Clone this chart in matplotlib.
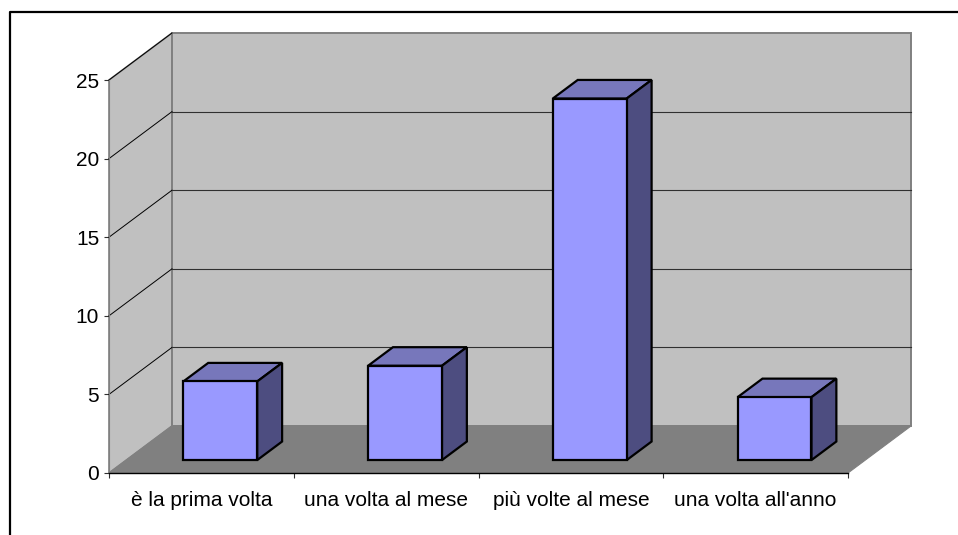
import matplotlib.pyplot as plt
from matplotlib.lines import Line2D
from matplotlib.patches import Polygon

categories = ["è la prima volta", "una volta al mese", "più volte al mese", "una volta all'anno"]
values = [5, 6, 23, 4]
y_ticks = [0, 5, 10, 15, 20, 25]

WALL = "#c0c0c0"
FLOOR = "#808080"
FRONT = "#9999ff"
TOP = "#7777bb"
SIDE = "#4d4d80"

# pixel layout of the front of the chart box
W, H = 958, 535
X0, X1 = 109, 848
Y0, Y25 = 473, 80
DX, DY = 63 / ((X1 - X0) / 4), 47 / ((Y0 - Y25) / 25)  # full depth in data units

BAR_W = 0.4
BAR_START = 0.3  # where the bar sits inside the depth
BAR_LIFT = 0.275
BAR_DEPTH = 0.395

plt.rcParams["font.family"] = ["Liberation Sans", "DejaVu Sans"]

fig = plt.figure(figsize=(W / 100, H / 100), dpi=100)
ax = fig.add_axes([0, 0, 1, 1])
ax.set_xlim(-X0 / ((X1 - X0) / 4), (W - X0) / ((X1 - X0) / 4))
ax.set_ylim(-(H - Y0) / ((Y0 - Y25) / 25), Y0 / ((Y0 - Y25) / 25))


def proj(x, y, d):
    # oblique projection, d is depth from 0 (front) to 1 (back)
    return x + d * DX, y + d * DY


def face(pts, color, edge, lw, z):
    ax.add_patch(Polygon(pts, closed=True, facecolor=color, edgecolor=edge, linewidth=lw, zorder=z, joinstyle="miter"))


n = len(categories)
top = y_ticks[-1]

# walls and floor
face([proj(0, 0, 0), proj(0, 0, 1), proj(0, top, 1), proj(0, top, 0)], WALL, FLOOR, 1.2, 1)
face([proj(0, 0, 1), proj(n, 0, 1), proj(n, top, 1), proj(0, top, 1)], WALL, FLOOR, 1.4, 1)
face([proj(0, 0, 0), proj(n, 0, 0), proj(n, 0, 1), proj(0, 0, 1)], FLOOR, FLOOR, 0.8, 1)

# gridlines
for t in y_ticks[1:]:
    xs, ys = zip(proj(0, t, 0), proj(0, t, 1), proj(n, t, 1))
    ax.plot(xs[:2], ys[:2], color="black", lw=0.7, zorder=2)
    if t != top:
        ax.plot(xs[1:], ys[1:], color="#303030", lw=0.8, zorder=2)

# bars
for i, v in enumerate(values):
    left = i + 0.5 - BAR_W / 2 + BAR_START * DX
    right = left + BAR_W
    base = BAR_LIFT * DY
    a, b = left, right
    face([(a, base), (b, base), (b, base + v), (a, base + v)], FRONT, "black", 1.6, 5)
    face(
        [(a, base + v), (b, base + v), proj(b, base + v, BAR_DEPTH), proj(a, base + v, BAR_DEPTH)],
        TOP, "black", 1.6, 4,
    )
    face(
        [(b, base), proj(b, base, BAR_DEPTH), proj(b, base + v, BAR_DEPTH), (b, base + v)],
        SIDE, "black", 1.6, 4,
    )

# axes
ax.patch.set_visible(False)
for s in ["top", "right"]:
    ax.spines[s].set_visible(False)
ax.spines["left"].set_position(("data", 0))
ax.spines["left"].set_bounds(0, top)
ax.spines["left"].set_color(FLOOR)
ax.spines["bottom"].set_position(("data", 0))
ax.spines["bottom"].set_bounds(0, n)
ax.spines["bottom"].set_linewidth(1.0)
ax.spines["bottom"].set_zorder(3)

ax.set_yticks(y_ticks)
ax.tick_params(axis="y", length=3.6, width=0.8, labelsize=15, pad=3.5, color="#303030")
ax.set_xticks(range(n + 1))
ax.set_xticklabels([])
ax.set_xticks([i + 0.5 for i in range(n)], minor=True)
ax.set_xticklabels(categories, minor=True)
ax.tick_params(axis="x", which="major", length=3.6, width=0.8, color="#303030")
ax.tick_params(axis="x", which="minor", length=0, labelsize=15, pad=13)

# chart area border, cut off by the image on the right and bottom
fig.add_artist(Line2D([9.5 / W, 9.5 / W, 1], [0, 1 - 12 / H, 1 - 12 / H], color="black", lw=1.6, transform=fig.transFigure))

fig.savefig("out.png", dpi=100)
